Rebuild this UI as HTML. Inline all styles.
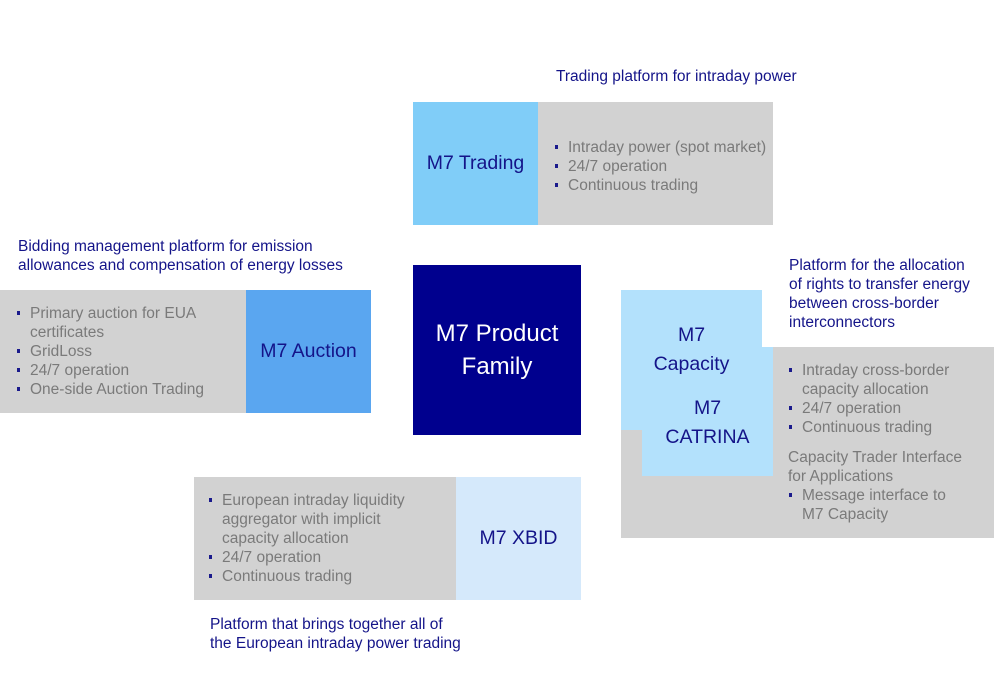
<!DOCTYPE html>
<html><head><style>
body{margin:0;width:994px;height:700px;background:#fff;position:relative;overflow:hidden;font-family:"Liberation Sans",sans-serif}
div{position:absolute;box-sizing:border-box}
.h{color:#141489;font-size:15.5px;line-height:19px}
.g{color:#7a7a7a;font-size:15.5px;line-height:19px}
.t{color:#141489;font-size:19.5px;text-align:center;display:flex;align-items:center;justify-content:center;line-height:29px}
ul{margin:0;padding:0;list-style:none}
li{position:relative;padding-left:14px}
li:before{content:"";position:absolute;left:1px;top:7px;width:3px;height:4px;background:#1a1a8c}
</style></head><body>
<div class="h" style="left:556px;top:67px">Trading platform for intraday power</div>
<div style="left:538px;top:102px;width:235px;height:123px;background:#d2d2d2"></div>
<div class="t" style="left:413px;top:102px;width:125px;height:123px;background:#80cdf8">M7 Trading</div>
<div class="g" style="left:554px;top:138px"><ul><li>Intraday power (spot market)</li><li>24/7 operation</li><li>Continuous trading</li></ul></div>

<div class="h" style="left:18px;top:237px">Bidding management platform for emission<br>allowances and compensation of energy losses</div>
<div style="left:0;top:290px;width:246px;height:123px;background:#d2d2d2"></div>
<div class="t" style="left:246px;top:290px;width:125px;height:123px;background:#5aa6f0">M7 Auction</div>
<div class="g" style="left:16px;top:304px"><ul><li>Primary auction for EUA<br>certificates</li><li>GridLoss</li><li>24/7 operation</li><li>One-side Auction Trading</li></ul></div>

<div class="t" style="left:413px;top:265px;width:168px;height:170px;background:#00008e;color:#fff;font-size:24px;line-height:33px">M7 Product<br>Family</div>

<div class="h" style="left:789px;top:256px">Platform for the allocation<br>of rights to transfer energy<br>between cross-border<br>interconnectors</div>
<div style="left:621px;top:347px;width:373px;height:191px;background:#d2d2d2"></div>
<div style="left:621px;top:290px;width:141px;height:140px;background:#b3e1fc"></div>
<div style="left:642px;top:347px;width:131px;height:129px;background:#b3e1fc"></div>
<div class="h" style="left:621px;top:321px;width:141px;text-align:center;font-size:19.5px;line-height:29px">M7<br>Capacity</div>
<div class="h" style="left:642px;top:394px;width:131px;text-align:center;font-size:19.5px;line-height:29px">M7<br>CATRINA</div>
<div class="g" style="left:788px;top:361px"><ul><li>Intraday cross-border<br>capacity allocation</li><li>24/7 operation</li><li>Continuous trading</li></ul>
<div style="position:static;margin-top:11px">Capacity Trader Interface<br>for Applications</div><ul><li>Message interface to<br>M7 Capacity</li></ul></div>

<div style="left:194px;top:477px;width:262px;height:123px;background:#d2d2d2"></div>
<div class="t" style="left:456px;top:477px;width:125px;height:123px;background:#d5e9fb">M7 XBID</div>
<div class="g" style="left:208px;top:491px"><ul><li>European intraday liquidity<br>aggregator with implicit<br>capacity allocation</li><li>24/7 operation</li><li>Continuous trading</li></ul></div>
<div class="h" style="left:210px;top:615px">Platform that brings together all of<br>the European intraday power trading</div>
</body></html>
